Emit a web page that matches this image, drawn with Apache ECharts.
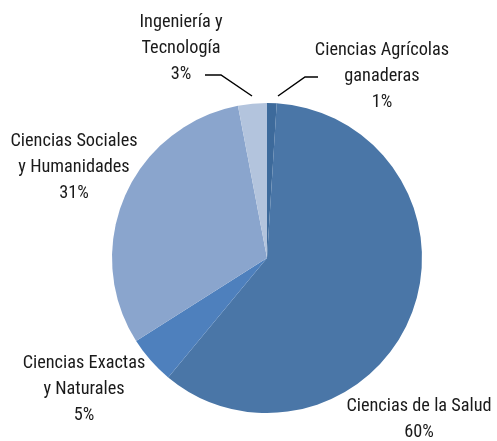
<!DOCTYPE html>
<html>
<head>
<meta charset="utf-8">
<script src="https://cdn.jsdelivr.net/npm/echarts@6/dist/echarts.min.js"></script>
<style>
  html, body { margin: 0; padding: 0; background: #fff; }
  #chart { width: 497px; height: 441px; }
</style>
</head>
<body>
<div id="chart"></div>
<script>
// data
const areas = [
  'Ciencias Agrícolas\nganaderas',
  'Ciencias de la Salud',
  'Ciencias Exactas\ny Naturales',
  'Ciencias Sociales\ny Humanidades',
  'Ingeniería y\nTecnología'
];
const shares = [1, 60, 5, 31, 3];
const colors = ['#3d6a9b', '#4a76a7', '#4e80bd', '#8aa5cd', '#b3c4dd'];

// where each label sits, plus leader lines for the two thin slices
const labelPos = [
  { x: 382, y: 76, line: [[278, 96], [305, 77], [318, 77]] },
  { x: 419, y: 419 },
  { x: 84, y: 389 },
  { x: 74, y: 167 },
  { x: 181, y: 48, line: [[252, 96], [221, 75], [205, 75]] }
];

let chart = echarts.init(document.getElementById('chart'));

chart.setOption({
  animation: false,
  series: [
    {
      type: 'pie',
      center: [267, 258],
      radius: 155,
      startAngle: 90,
      clockwise: true,
      itemStyle: { borderWidth: 0 },
      label: {
        show: true,
        position: 'outside',
        formatter: p => p.name + '\n' + p.value + '%',
        fontFamily: '"Roboto Condensed", "DejaVu Sans Condensed", sans-serif',
        fontWeight: 'normal',
        fontSize: 18.3,
        lineHeight: 26,
        color: '#1a1a1a',
        align: 'center',
        width: 220,
        overflow: 'none'
      },
      labelLine: {
        show: true,
        lineStyle: { color: '#000', width: 1.5 }
      },
      labelLayout: function (params) {
        const pos = labelPos[params.dataIndex];
        const out = {
          x: pos.x,
          y: pos.y,
          align: 'center',
          verticalAlign: 'middle'
        };
        if (pos.line) out.labelLinePoints = pos.line;
        return out;
      },
      data: areas.map((name, i) => ({
        name: name,
        value: shares[i],
        itemStyle: { color: colors[i] },
        labelLine: { show: !!labelPos[i].line }
      }))
    }
  ]
});
</script>
</body>
</html>
